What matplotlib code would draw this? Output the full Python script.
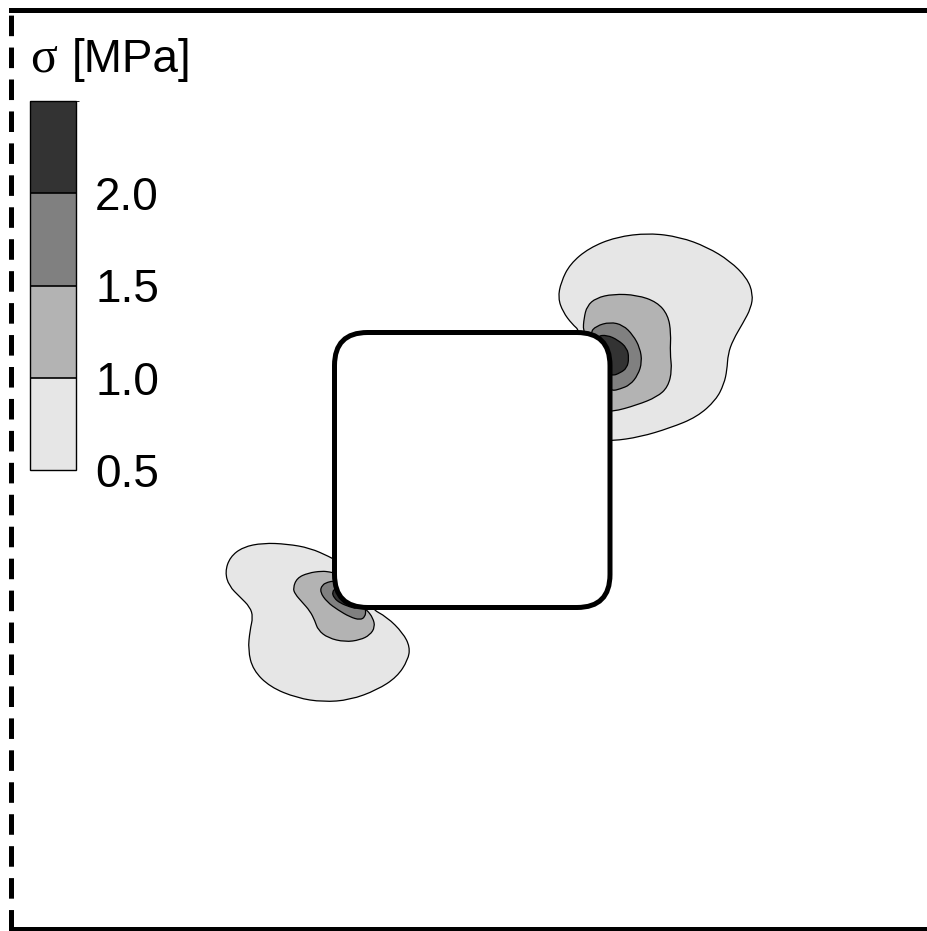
import numpy as np
import matplotlib
matplotlib.use("Agg")
import matplotlib.pyplot as plt
from matplotlib.path import Path
from matplotlib.patches import PathPatch, FancyBboxPatch
from matplotlib.colors import ListedColormap, BoundaryNorm
from matplotlib.cm import ScalarMappable

plt.rcParams['font.family'] = ['Liberation Sans', 'DejaVu Sans']
plt.rcParams['lines.scale_dashes'] = False

# stress levels and their grey fills
levels = [0.5, 1.0, 1.5, 2.0, 2.5]
level_colors = ['#e6e6e6', '#b3b3b3', '#808080', '#333333']
tick_values = [0.5, 1.0, 1.5, 2.0]
cbar_symbol = 'σ'
cbar_unit = '[MPa]'

# iso-stress outlines around the two loaded corners (x, y; y grows downwards)
upper_05 = [(580, 331), (572, 324), (563, 312), (558, 298), (561, 282), (570, 264),
            (589, 248), (616, 237), (649, 233), (680, 237), (707, 247), (730, 261),
            (747, 278), (753, 294), (751, 308), (743, 323), (733, 340), (728, 354),
            (727, 370), (724, 384), (716, 400), (697, 417), (670, 428), (640, 437),
            (612, 441), (595, 440), (575, 400), (575, 345)]
upper_10 = [(583, 331), (584, 318), (587, 306), (596, 298), (613, 294), (637, 295),
            (657, 302), (668, 315), (671, 333), (670, 353), (672, 370), (668, 387),
            (657, 397), (637, 405), (612, 412), (598, 410), (590, 360), (588, 340)]
upper_15 = [(590, 333), (596, 326), (610, 322), (623, 325), (633, 335), (640, 348),
            (642, 362), (638, 375), (630, 385), (620, 389), (612, 391), (598, 385),
            (596, 350)]
upper_20 = [(597, 336), (607, 335), (618, 340), (627, 348), (629, 358), (627, 368),
            (620, 373), (612, 376), (600, 370), (595, 348)]

lower_05 = [(335, 560), (330, 557), (310, 548), (287, 544), (263, 543), (243, 547),
            (230, 557), (225, 572), (229, 586), (240, 597), (250, 607), (253, 617),
            (250, 630), (248, 650), (253, 670), (270, 687), (297, 698), (323, 702),
            (350, 700), (377, 690), (397, 677), (408, 660), (410, 647), (403, 633),
            (387, 617), (370, 608), (370, 590), (345, 565)]
lower_10 = [(334, 573), (330, 572), (322, 571), (308, 573), (297, 578), (293, 588),
            (295, 594), (302, 602), (310, 611), (315, 621), (318, 630), (328, 638),
            (345, 642), (360, 640), (370, 635), (375, 627), (373, 618), (367, 610),
            (362, 607), (360, 595), (345, 578)]
lower_15 = [(334, 581), (328, 582), (322, 585), (320, 592), (327, 602), (338, 610),
            (350, 617), (360, 620), (365, 617), (366, 610), (362, 598), (348, 585)]
lower_20 = [(336, 588), (332, 592), (334, 598), (340, 603), (350, 607), (358, 609),
            (356, 596), (345, 588)]

outlines = [(upper_05, 0), (upper_10, 1), (upper_15, 2), (upper_20, 3),
            (lower_05, 0), (lower_10, 1), (lower_15, 2), (lower_20, 3)]

# rigid inclusion (rounded square)
body_x0, body_y0, body_x1, body_y1 = 334.5, 332.5, 610.0, 607.5
body_radius = 33


def closed_smooth_path(pts):
    """Closed quadratic-spline path using the points as control points."""
    p = np.asarray(pts, float)
    mids = (p + np.roll(p, -1, axis=0)) / 2
    verts = [mids[-1]]
    codes = [Path.MOVETO]
    for i in range(len(p)):
        verts += [p[i], mids[i]]
        codes += [Path.CURVE3, Path.CURVE3]
    verts.append(mids[-1])
    codes.append(Path.CLOSEPOLY)
    return Path(verts, codes)


W, H = 928, 931
fig = plt.figure(figsize=(W / 100, H / 100), dpi=100)
# the domain continues past the right edge, so no right border is drawn
ax = fig.add_axes([10.8 / W, 2 / H, (940 - 10.8) / W, 919.5 / H])
ax.set_xlim(10.8, 940)
ax.set_ylim(929, 9.5)
ax.set_xticks([])
ax.set_yticks([])

ax.spines['right'].set_visible(False)
for side in ['top', 'bottom', 'left']:
    ax.spines[side].set_linewidth(3.6)
ax.spines['left'].set_linestyle((-1.0, (11.2, 11.8)))

for pts, k in outlines:
    ax.add_patch(PathPatch(closed_smooth_path(pts), facecolor=level_colors[k],
                           edgecolor='black', lw=0.9, zorder=2 + k))

ax.add_patch(FancyBboxPatch((body_x0, body_y0), body_x1 - body_x0, body_y1 - body_y0,
                            boxstyle=f'round,pad=0,rounding_size={body_radius}',
                            facecolor='white', edgecolor='black', lw=3.6, zorder=10))

# colour bar
cax = fig.add_axes([30 / W, (H - 470) / H, 46 / W, 369 / H])
sm = ScalarMappable(norm=BoundaryNorm(levels, len(level_colors)),
                    cmap=ListedColormap(level_colors))
cb = fig.colorbar(sm, cax=cax, ticks=tick_values, drawedges=True)
cb.outline.set_linewidth(1.0)
cb.dividers.set_linewidth(1.2)
cb.ax.set_yticklabels([f'{v:.1f}' for v in tick_values])
cax.tick_params(length=0, pad=13.7, labelsize=33)

fig.text(30 / W, 1 - 72 / H, cbar_symbol, fontsize=36, ha='left', va='baseline',
         family=['Liberation Serif', 'DejaVu Serif'])
fig.text(72 / W, 1 - 72 / H, cbar_unit, fontsize=33, ha='left', va='baseline')

fig.savefig('out.png', dpi=100)
